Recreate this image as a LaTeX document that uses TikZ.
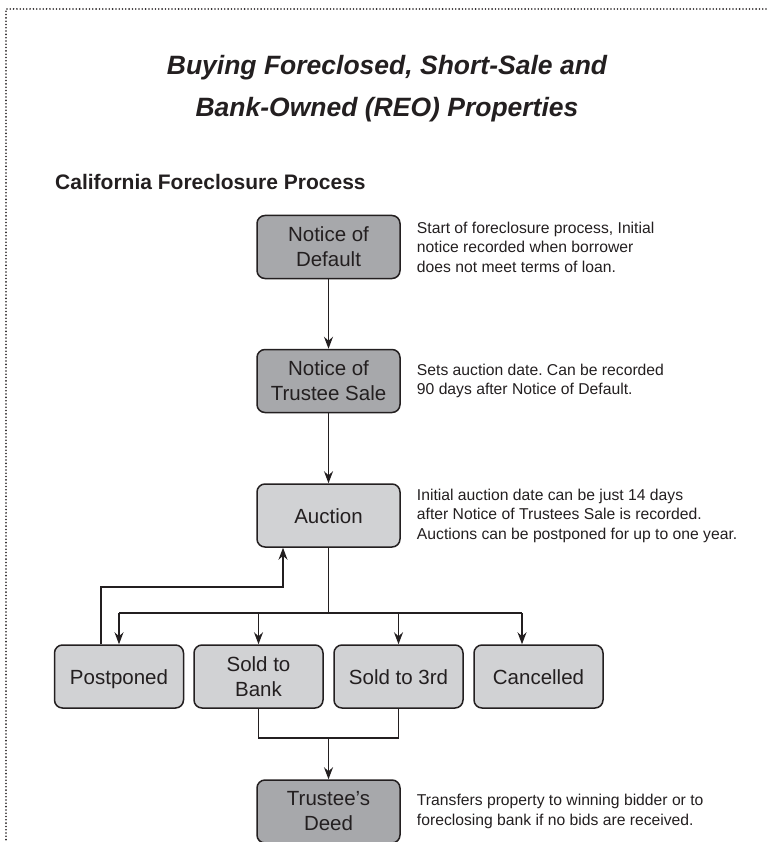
\documentclass[tikz,border=0pt]{standalone}
\usepackage{fontspec}
\setmainfont{Liberation Sans}
\usetikzlibrary{arrows.meta,positioning}
\definecolor{boxdark}{HTML}{A7A8AB}
\definecolor{boxlight}{HTML}{D1D2D4}
\definecolor{ink}{HTML}{231F20}
\frenchspacing
\tikzset{
  stage/.style={draw=ink,line width=1.5pt,rounded corners=8pt,minimum width=143pt,minimum height=63pt,
    align=center,inner sep=0pt,text=ink,font=\fontsize{20.5}{25}\selectfont},
  darkstage/.style={stage,fill=boxdark},
  lightstage/.style={stage,fill=boxlight},
  outcome/.style={lightstage,minimum width=129pt},
  single/.style={text height=15pt,text depth=0pt},
  double/.style={},
  note/.style={align=left,inner sep=0pt,text=ink,font=\fontsize{15.7}{19.5}\selectfont},
  flow/.style={draw=ink,line width=1.3pt},
  arr/.style={flow,-{Stealth[length=12pt,width=9pt,inset=4pt]}}
}
\begin{document}
\begin{tikzpicture}[x=1pt,y=-1pt]
\useasboundingbox (0,0) rectangle (766,842);
\draw[ink,line width=1.8pt,line cap=round,dash pattern=on 0pt off 3.3pt] (766,9) -- (6,9) -- (6,842);
% headings
\node[font=\fontsize{26.5}{42}\selectfont\bfseries\itshape,align=center,text=ink] (title) at (387,89)
  {Buying Foreclosed, Short-Sale and\\Bank-Owned (REO) Properties};
\node[font=\fontsize{21}{25}\selectfont\bfseries,anchor=west,inner sep=0pt,text=ink] (sub) at (55,182)
  {California Foreclosure Process};
% main column
\node[darkstage] (nod) at (328.5,247) {Notice of\\Default};
\node[darkstage] (nots) at (328.5,381) {Notice of\\Trustee Sale};
\node[lightstage,single] (auction) at (328.5,515.5) {Auction};
\foreach \x/\n/\k/\t in {119/post/single/Postponed,258.5/bank/double/{Sold to\\Bank},398.5/third/single/Sold to 3rd,538.5/cancel/single/Cancelled}
  \node[outcome,\k] (\n) at (\x,676.5) {\t};
\node[darkstage] (deed) at (328.5,811.5) {Trustee’s\\Deed};
% notes
\node[note,right=16pt of nod] (nodnote) {Start of foreclosure process, Initial\\notice recorded when borrower\\does not meet terms of loan.};
\node[note,right=16pt of nots] (notsnote) {Sets auction date. Can be recorded\\90 days after Notice of Default.};
\node[note,right=16pt of auction] (auctionnote) {Initial auction date can be just 14 days\\after Notice of Trustees Sale is recorded.\\Auctions can be postponed for up to one year.};
\node[note,right=16pt of deed] (deednote) {Transfers property to winning bidder or to\\foreclosing bank if no bids are received.};
% connectors
\draw[arr] (nod) -- (nots);
\draw[arr] (nots) -- (auction);
\coordinate (bus) at (328.5,613);
\coordinate (cancelin) at ([xshift=-16.5pt]cancel.north);
\draw[flow] (auction) -- (bus);
\draw[flow] (post.north |- bus) -- (cancelin |- bus);
\foreach \n in {post.north,bank.north,third.north,cancelin} \draw[arr] (\n |- bus) -- (\n);
\coordinate (back) at (283,587);
\draw[arr] ([xshift=-18pt]post.north) |- (back) -- (back |- auction.south);
\coordinate (join) at (328.5,738);
\draw[flow] (bank.south) |- (join);
\draw[flow] (third.south) |- (join);
\draw[arr] (join) -- (deed);
\end{tikzpicture}
\end{document}
